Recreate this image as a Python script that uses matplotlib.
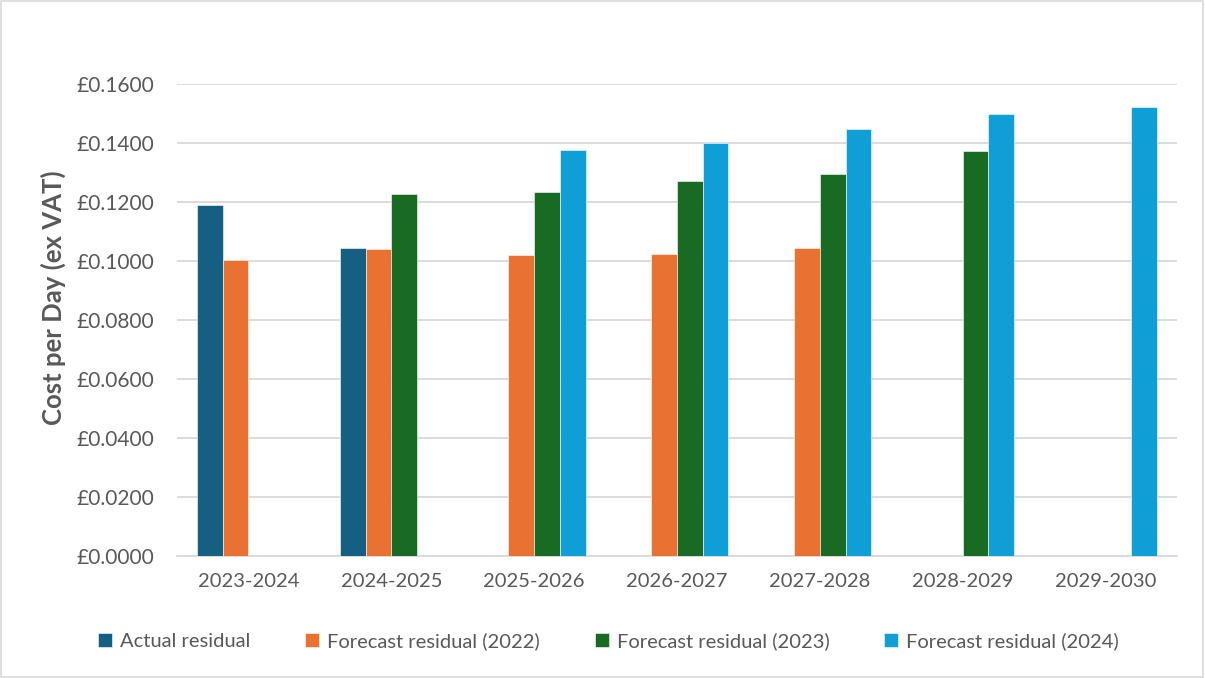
import matplotlib
matplotlib.use("Agg")
import matplotlib.pyplot as plt
import numpy as np

categories = ["2023-2024", "2024-2025", "2025-2026", "2026-2027", "2027-2028", "2028-2029", "2029-2030"]
series_names = ["Actual residual", "Forecast residual (2022)", "Forecast residual (2023)", "Forecast residual (2024)"]
actual = [0.1191, 0.1044, None, None, None, None, None]
forecast_2022 = [0.1003, 0.1040, 0.1019, 0.1024, 0.1045, None, None]
forecast_2023 = [None, 0.1226, 0.1234, 0.1271, 0.1296, 0.1372, None]
forecast_2024 = [None, None, 0.1375, 0.1399, 0.1447, 0.1497, 0.1522]
yticks = [0.0, 0.02, 0.04, 0.06, 0.08, 0.10, 0.12, 0.14, 0.16]

colors = ["#156082", "#E97132", "#196B24", "#0F9ED5"]
text_color = "#595959"

plt.rcParams['font.family'] = ['Lato', 'DejaVu Sans']

fig = plt.figure(figsize=(12.05, 6.78), dpi=100)
ax = fig.add_axes([177/1205, 122/678, (1177-177)/1205, (556-84)/678])

x = np.arange(len(categories))
width = 0.18
all_series = [actual, forecast_2022, forecast_2023, forecast_2024]
for i, (vals, name, c) in enumerate(zip(all_series, series_names, colors)):
    v = np.array([np.nan if a is None else a for a in vals], dtype=float)
    ax.bar(x + (i - 1.5) * width, v, width, color=c, label=name,
           edgecolor="white", linewidth=0.4, zorder=3)

ax.set_xlim(-0.5, len(categories) - 0.5)
ax.set_ylim(0, 0.16)
ax.set_yticks(yticks)
ax.set_yticklabels([f"£{t:.4f}" for t in yticks])
ax.set_xticks(x)
ax.set_xticklabels(categories)
ax.tick_params(axis='both', length=0, colors=text_color)
ax.tick_params(axis='x', labelsize=14.5, pad=12)
ax.tick_params(axis='y', labelsize=15, pad=16.5)
ax.grid(axis='y', color="#D9D9D9", linewidth=1.3, zorder=0)
for s in ["top", "right", "left"]:
    ax.spines[s].set_visible(False)
ax.spines["bottom"].set_color("#D9D9D9")
ax.spines["bottom"].set_linewidth(1.3)

ax.set_ylabel("Cost per Day (ex VAT)", fontsize=18.5, fontweight="bold", color=text_color)
ax.yaxis.set_label_coords((53 - 177) / 1000, (678 - 298 - 122) / (556 - 84))
ax.yaxis.label.set_va("center")

leg = fig.legend(loc="center", bbox_to_anchor=(0.505, 1 - 641/678), ncol=4,
                 frameon=False, fontsize=14.5, handlelength=0.7, handleheight=0.7,
                 handletextpad=0.4, columnspacing=2.7)
for t in leg.get_texts():
    t.set_color(text_color)

border = plt.Rectangle((0.001, 0.001), 0.997, 0.997, transform=fig.transFigure,
                       fill=False, edgecolor="#D9D9D9", linewidth=1.2)
fig.patches.append(border)

fig.savefig("out.png", dpi=100, facecolor="white")
